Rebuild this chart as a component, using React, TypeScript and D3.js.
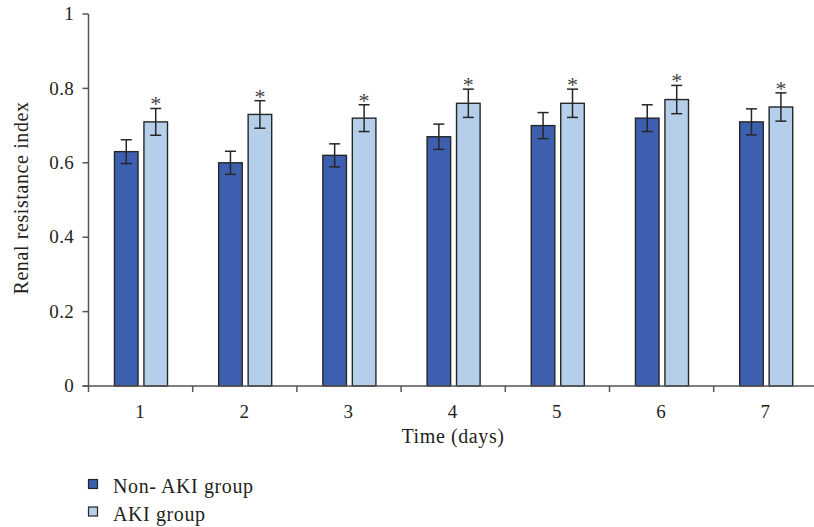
import React from "react";
import * as d3 from "d3";

const days = ["1", "2", "3", "4", "5", "6", "7"];
const seriesNames = ["Non- AKI group", "AKI group"];
const nonAki = [0.63, 0.6, 0.62, 0.67, 0.7, 0.72, 0.71];
const nonAkiErr = [0.032, 0.031, 0.031, 0.034, 0.035, 0.036, 0.035];
const aki = [0.71, 0.73, 0.72, 0.76, 0.76, 0.77, 0.75];
const akiErr = [0.036, 0.037, 0.036, 0.038, 0.038, 0.038, 0.038];
const yTicks = [0, 0.2, 0.4, 0.6, 0.8, 1];
const colors = ["#3d5fb0", "#b5cfeb"];

const W = 814;
const H = 527;
const FONT = "'Liberation Serif', 'Times New Roman', serif";

export default function App() {
  const x0 = d3.scaleBand<string>().domain(days).range([88, 88 + 7 * 104.2]).paddingInner(0).paddingOuter(0);
  const bw = x0.bandwidth();
  const x1 = d3
    .scaleBand<string>()
    .domain(seriesNames)
    .range([bw * 0.254, bw * 0.763])
    .paddingInner(0.2)
    .paddingOuter(0);
  const y = d3.scaleLinear().domain([0, 1]).range([386, 14]);
  const fmt = (v: number) => (v === 0 || v === 1 ? String(v) : v.toFixed(1));

  const data = [
    { name: seriesNames[0], vals: nonAki, errs: nonAkiErr, star: false },
    { name: seriesNames[1], vals: aki, errs: akiErr, star: true },
  ];

  const textStyle = { fontFamily: FONT, fill: "#231f20", letterSpacing: "0.6px" } as React.CSSProperties;
  const tickStyle = { fontFamily: FONT, fill: "#231f20", letterSpacing: "0.3px" } as React.CSSProperties;

  return (
    <svg width={W} height={H} style={{ position: "absolute", left: 0, top: 0, background: "#fff" }}>
      {/* bars */}
      {data.map((s, si) =>
        days.map((d, i) => {
          const bx = (x0(d) as number) + (x1(s.name) as number);
          const w = x1.bandwidth();
          const cx = bx + w / 2;
          const top = y(s.vals[i]);
          const hi = y(s.vals[i] + s.errs[i]);
          const lo = y(s.vals[i] - s.errs[i]);
          return (
            <g key={s.name + d}>
              <rect x={bx} y={top} width={w} height={y(0) - top} fill={colors[si]} stroke="#262626" strokeWidth={1.4} />
              <line x1={cx} x2={cx} y1={hi} y2={lo} stroke="#262626" strokeWidth={1.5} />
              <line x1={cx - 5.5} x2={cx + 5.5} y1={hi} y2={hi} stroke="#262626" strokeWidth={1.5} />
              <line x1={cx - 5.5} x2={cx + 5.5} y1={lo} y2={lo} stroke="#262626" strokeWidth={1.5} />
              {s.star && (
                <text x={cx} y={hi + 3} textAnchor="middle" fontSize={22} style={{ fontFamily: FONT, fill: "#444" }}>
                  *
                </text>
              )}
            </g>
          );
        })
      )}
      {/* y axis */}
      <line x1={88.5} x2={88.5} y1={y(1)} y2={y(0)} stroke="#555" strokeWidth={1.5} />
      {yTicks.map((t) => (
        <g key={t}>
          <line x1={82.5} x2={88.5} y1={y(t)} y2={y(t)} stroke="#555" strokeWidth={1.5} />
          <text x={74} y={y(t)} dy="0.33em" textAnchor="end" fontSize={19} style={tickStyle}>
            {fmt(t)}
          </text>
        </g>
      ))}
      {/* x axis */}
      <line x1={82.5} x2={W} y1={386} y2={386} stroke="#555" strokeWidth={1.5} />
      {days.map((d) => (
        <line key={"t" + d} x1={(x0(d) as number) + 0.5} x2={(x0(d) as number) + 0.5} y1={386} y2={392} stroke="#555" strokeWidth={1.5} />
      ))}
      {days.map((d) => (
        <text key={"l" + d} x={(x0(d) as number) + bw / 2} y={418} textAnchor="middle" fontSize={19} style={tickStyle}>
          {d}
        </text>
      ))}
      <text x={453} y={443} textAnchor="middle" fontSize={20} style={textStyle}>
        Time (days)
      </text>
      <text transform="translate(28,198) rotate(-90)" textAnchor="middle" fontSize={20} style={textStyle}>
        Renal resistance index
      </text>
      {/* legend */}
      {seriesNames.map((n, i) => (
        <g key={n} transform={`translate(88,${479 + i * 27.5})`}>
          <rect x={0.5} y={0.5} width={9} height={9} fill={colors[i]} stroke="#262626" strokeWidth={1.2} />
          <text x={25} y={14} fontSize={20} style={textStyle}>
            {n}
          </text>
        </g>
      ))}
    </svg>
  );
}
